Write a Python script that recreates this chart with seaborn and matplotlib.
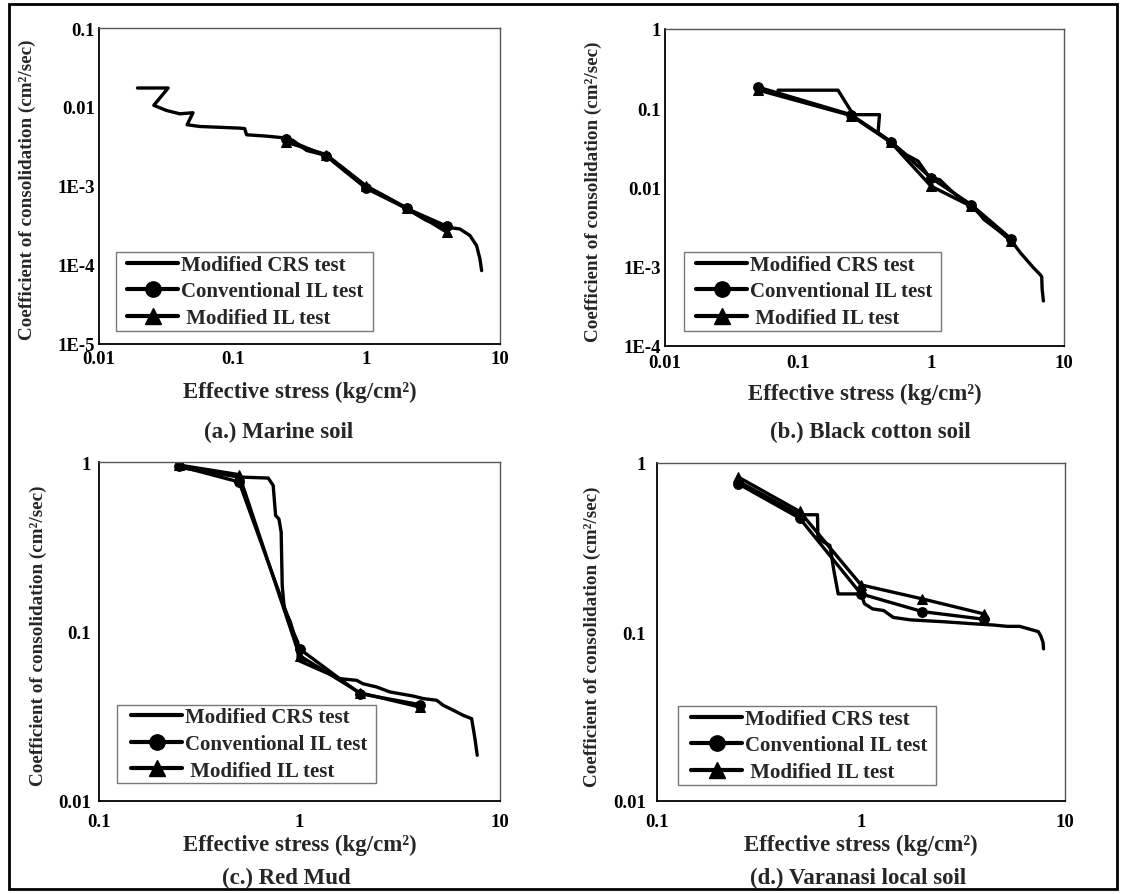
import numpy as np
import matplotlib
matplotlib.use("Agg")
import matplotlib.pyplot as plt
from matplotlib.lines import Line2D
from matplotlib.patches import Rectangle
from matplotlib.ticker import FixedLocator, FixedFormatter, LogLocator, NullFormatter
import seaborn as sns

# ---------------- data ----------------
series_names = ["Modified CRS test", "Conventional IL test", " Modified IL test"]
panel_titles = ["(a.) Marine soil", "(b.) Black cotton soil", "(c.) Red Mud", "(d.) Varanasi local soil"]
x_label = "Effective stress (kg/cm\u00b2)"
y_label = "Coefficient of consolidation (cm\u00b2/sec)"

# (a) Marine soil
a_crs_x = [0.0194, 0.0329, 0.0257, 0.0319, 0.0402, 0.0505, 0.0456, 0.0567, 0.113, 0.123, 0.127, 0.179,
           0.253, 0.283, 0.357, 0.503, 0.711, 1.0, 1.34, 2.0, 2.82, 3.98, 5.01, 5.96, 6.68, 7.08, 7.29]
a_crs_y = [0.0174, 0.0174, 0.0105, 0.00905, 0.0082, 0.00846, 0.00596, 0.00567, 0.0054, 0.00533, 0.00445,
           0.00428, 0.00404, 0.00377, 0.00282, 0.00243, 0.0015, 0.00097, 0.00076, 0.000514, 0.000366,
           0.000301, 0.000286, 0.000236, 0.000176, 0.000119, 0.0000849]
a_il_x = [0.25, 0.5, 1, 2, 4]
a_conv_y = [0.0039, 0.0024, 0.00093, 0.00052, 0.00031]
a_mod_y = [0.0036, 0.0025, 0.001, 0.00053, 0.00026]

# (b) Black cotton soil
b_crs_x = [0.0708, 0.2, 0.26, 0.41, 0.40, 0.49, 0.65, 0.80, 0.98, 1.16, 1.39, 1.75, 2.08, 2.5, 3.15,
           3.97, 4.7, 5.9, 6.6, 6.8, 6.85, 7.0]
b_crs_y = [0.169, 0.169, 0.083, 0.083, 0.049, 0.0384, 0.026, 0.0215, 0.0132, 0.0126, 0.0094, 0.0067,
           0.0058, 0.00395, 0.00295, 0.0022, 0.0015, 0.00097, 0.0008, 0.00075, 0.00052, 0.00037]
b_il_x = [0.05, 0.25, 0.5, 1, 2, 4]
b_conv_y = [0.185, 0.083, 0.038, 0.0132, 0.0061, 0.00225]
b_mod_y = [0.17, 0.081, 0.037, 0.0104, 0.0058, 0.0021]

# (c) Red Mud
c_crs_x = [0.25, 0.5, 0.698, 0.739, 0.76, 0.79, 0.81, 0.82, 0.84, 0.90, 0.93, 0.98, 0.985, 1.22, 1.59,
           1.93, 2.07, 2.42, 2.82, 3.69, 4.14, 4.83, 5.21, 5.85, 6.56, 7.22, 7.36, 7.5, 7.7]
c_crs_y = [0.93, 0.815, 0.804, 0.728, 0.484, 0.46, 0.386, 0.187, 0.136, 0.114, 0.099, 0.0867, 0.0676,
           0.0604, 0.0527, 0.0515, 0.0492, 0.0471, 0.044, 0.0416, 0.0402, 0.0393, 0.0367, 0.0343, 0.032,
           0.0306, 0.0267, 0.0233, 0.0186]
c_il_x = [0.25, 0.5, 1, 2, 4]
c_conv_y = [0.947, 0.762, 0.079, 0.043, 0.037]
c_mod_y = [0.96, 0.842, 0.072, 0.0435, 0.0358]

# (d) Varanasi local soil
d_crs_x = [0.25, 0.5, 0.612, 0.615, 0.704, 0.736, 0.773, 1.0, 1.04, 1.14, 1.29, 1.44, 1.74, 2.54, 3.7,
           4.45, 5.2, 6.0, 6.7, 7.4, 7.6, 7.8, 7.85]
d_crs_y = [0.78, 0.494, 0.494, 0.356, 0.325, 0.231, 0.168, 0.168, 0.147, 0.137, 0.134, 0.122, 0.118,
           0.115, 0.1115, 0.110, 0.108, 0.108, 0.104, 0.1005, 0.095, 0.087, 0.0795]
d_il_x = [0.25, 0.5, 1, 2, 4]
d_conv_y = [0.754, 0.472, 0.168, 0.132, 0.119]
d_mod_y = [0.826, 0.517, 0.19, 0.157, 0.128]

# axis ticks
a_xticks = [0.01, 0.1, 1, 10]
a_xticklabels = ["0.01", "0.1", "1", "10"]
a_yticks = [1e-5, 1e-4, 1e-3, 0.01, 0.1]
a_yticklabels = ["1E-5", "1E-4", "1E-3", "0.01", "0.1"]
b_yticks = [1e-4, 1e-3, 0.01, 0.1, 1]
b_yticklabels = ["1E-4", "1E-3", "0.01", "0.1", "1"]
c_xticks = [0.1, 1, 10]
c_xticklabels = ["0.1", "1", "10"]
c_yticks = [0.01, 0.1, 1]
c_yticklabels = ["0.01", "0.1", "1"]

# ---------------- style ----------------
sns.set_style("white")
plt.rcParams["font.family"] = ["Liberation Serif", "DejaVu Serif"]
plt.rcParams["font.weight"] = "bold"

W, H = 1123, 895
fig = plt.figure(figsize=(W / 100, H / 100), dpi=100)


def rect(l, t, r, b):
    return [l / W, 1 - b / H, (r - l) / W, (b - t) / H]


panels = [
    dict(box=(99, 29, 500, 345), crs=(a_crs_x, a_crs_y), ilx=a_il_x, conv=a_conv_y, mod=a_mod_y,
         xlim=(0.01, 10), ylim=(1e-5, 0.1), xt=(a_xticks, a_xticklabels), yt=(a_yticks, a_yticklabels),
         xl=392, sub=(279, 432), yl=27, legbox=(116, 253, 373, 332), leghx=127, xpad=4.5, ypad=3),
    dict(box=(665, 30, 1064, 347), crs=(b_crs_x, b_crs_y), ilx=b_il_x, conv=b_conv_y, mod=b_mod_y,
         xlim=(0.01, 10), ylim=(1e-4, 1), xt=(a_xticks, a_xticklabels), yt=(b_yticks, b_yticklabels),
         xl=394, sub=(870, 432), yl=593, legbox=(684, 253, 941, 332), leghx=696, xpad=5.5, ypad=3),
    dict(box=(99, 463, 500, 802), crs=(c_crs_x, c_crs_y), ilx=c_il_x, conv=c_conv_y, mod=c_mod_y,
         xlim=(0.1, 10), ylim=(0.01, 1), xt=(c_xticks, c_xticklabels), yt=(c_yticks, c_yticklabels),
         xl=845, sub=(286, 878), yl=38, legbox=(117, 706, 376, 784), leghx=131, xpad=8.5, ypad=6),
    dict(box=(657, 464, 1065, 802), crs=(d_crs_x, d_crs_y), ilx=d_il_x, conv=d_conv_y, mod=d_mod_y,
         xlim=(0.1, 10), ylim=(0.01, 1), xt=(c_xticks, c_xticklabels), yt=(c_yticks, c_yticklabels),
         xl=845, sub=(858, 878), yl=592, legbox=(678, 707, 936, 786), leghx=691, xpad=8.5, ypad=8),
]

LW = 2.4
for i, p in enumerate(panels):
    l, t, r, b = p["box"]
    aw, ah = r - l, b - t
    fx = lambda px: (px - l) / aw
    fy = lambda py: (b - py) / ah

    ax = fig.add_axes(rect(*p["box"]))
    ax.set_xscale("log")
    ax.set_yscale("log")
    sns.lineplot(x=p["crs"][0], y=p["crs"][1], ax=ax, sort=False, estimator=None,
                 color="black", lw=LW)
    sns.lineplot(x=p["ilx"], y=p["conv"], ax=ax, sort=False, estimator=None, color="black", lw=LW,
                 marker="o", markersize=7, markeredgecolor="black", markerfacecolor="black")
    sns.lineplot(x=p["ilx"], y=p["mod"], ax=ax, sort=False, estimator=None, color="black", lw=LW,
                 marker="^", markersize=7, markeredgecolor="black", markerfacecolor="black")
    ax.set_xlim(*p["xlim"])
    ax.set_ylim(*p["ylim"])

    ax.xaxis.set_major_locator(FixedLocator(p["xt"][0]))
    ax.xaxis.set_major_formatter(FixedFormatter(p["xt"][1]))
    ax.yaxis.set_major_locator(FixedLocator(p["yt"][0]))
    ax.yaxis.set_major_formatter(FixedFormatter(p["yt"][1]))
    ax.xaxis.set_minor_locator(LogLocator(base=10, subs=np.arange(2, 10), numticks=20))
    ax.yaxis.set_minor_locator(LogLocator(base=10, subs=np.arange(2, 10), numticks=20))
    ax.xaxis.set_minor_formatter(NullFormatter())
    ax.yaxis.set_minor_formatter(NullFormatter())
    ax.tick_params(which="both", direction="in", top=False, right=False, colors="black")
    ax.tick_params(which="major", length=6, width=1.1, labelsize=13.5)
    ax.tick_params(which="minor", length=3.5, width=0.9)
    ax.tick_params(axis="x", which="major", pad=p["xpad"])
    ax.tick_params(axis="y", which="major", pad=p["ypad"])
    for lab in ax.get_xticklabels() + ax.get_yticklabels():
        lab.set_fontweight("bold")

    for s in ["left", "bottom"]:
        ax.spines[s].set_color("black")
        ax.spines[s].set_linewidth(1.3)
    for s in ["top", "right"]:
        ax.spines[s].set_color("#555555")
        ax.spines[s].set_linewidth(1.0)

    ax.set_xlabel(x_label, fontsize=16.5, fontweight="bold")
    ax.xaxis.label.set_va("center")
    ax.xaxis.set_label_coords(0.5, fy(p["xl"]))
    ax.set_ylabel(y_label, fontsize=13.8, fontweight="bold")
    ax.yaxis.label.set_va("center")
    ax.yaxis.set_label_coords(fx(p["yl"]), 0.49)
    ax.text(fx(p["sub"][0]), fy(p["sub"][1]), panel_titles[i], transform=ax.transAxes, ha="center",
            va="center", fontsize=16.5, fontweight="bold")

    # legend frame drawn separately (wide side padding, tight vertical padding)
    bl, bt, br, bb = p["legbox"]
    ax.add_patch(Rectangle((fx(bl), fy(bb)), (br - bl) / aw, (bb - bt) / ah, transform=ax.transAxes,
                           fill=True, facecolor="white", edgecolor="#777777", lw=1.0, zorder=4,
                           clip_on=False))
    handles = [
        Line2D([], [], color="black", lw=3),
        Line2D([], [], color="black", lw=3, marker="o", markersize=11),
        Line2D([], [], color="black", lw=3, marker="^", markersize=11),
    ]
    leg = ax.legend(handles, series_names, loc="center left",
                    bbox_to_anchor=(fx(p["leghx"]), fy((bt + bb) / 2)),
                    prop={"family": "Liberation Serif", "weight": "bold", "size": 15},
                    frameon=False, handlelength=2.45, handletextpad=0.15, labelspacing=0.32,
                    borderpad=0, borderaxespad=0)
    leg.set_zorder(5)

fig.patches.append(Rectangle((9 / W, 5 / H), (1117 - 9) / W, (890 - 5) / H, transform=fig.transFigure,
                             fill=False, edgecolor="black", linewidth=2, zorder=10))

fig.savefig("out.png", dpi=100, facecolor="white")
